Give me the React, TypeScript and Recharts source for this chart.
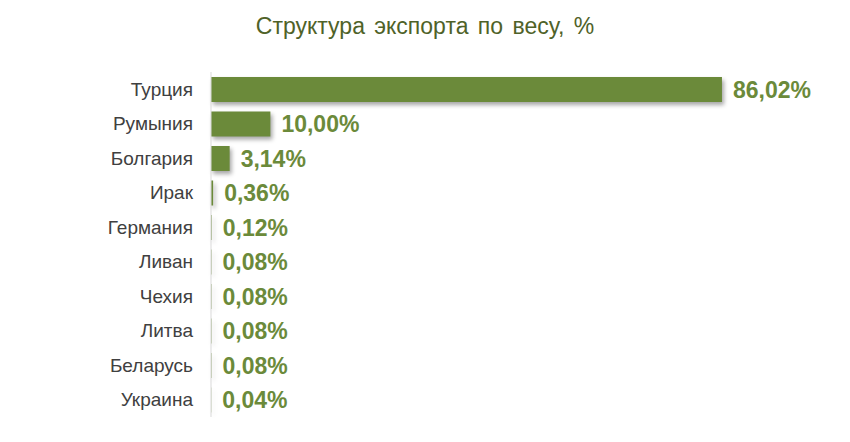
import { BarChart, Bar, XAxis, YAxis, LabelList } from 'recharts';

const countries = [
  'Турция',
  'Румыния',
  'Болгария',
  'Ирак',
  'Германия',
  'Ливан',
  'Чехия',
  'Литва',
  'Беларусь',
  'Украина',
];
const shares = [86.02, 10.0, 3.14, 0.36, 0.12, 0.08, 0.08, 0.08, 0.08, 0.04];

const BAR = '#6b8a3a';
const TITLE = '#4f6228';

const data = countries.map((c, i) => ({ country: c, share: shares[i] }));

const fmt = (v: number) => `${v.toFixed(2).replace('.', ',')}%`;

function ShadowBar(props: any) {
  const { x, y, width, height, fill } = props;
  if (!width || width <= 0) return null;
  return (
    <rect
      x={x}
      y={y}
      width={width}
      height={height}
      fill={fill}
      style={{ filter: 'drop-shadow(2px 3px 2px rgba(0,0,0,0.35))' }}
    />
  );
}

export default function App() {
  return (
    <div style={{ position: 'absolute', left: 0, top: 0, width: 850, height: 442, background: '#fff', fontFamily: '"Liberation Sans", Arial, sans-serif' }}>
      <div
        style={{
          position: 'absolute',
          top: 13,
          left: 0,
          width: 850,
          textAlign: 'center',
          fontSize: 23,
          color: TITLE,
          wordSpacing: 3,
        }}
      >
        Структура экспорта по весу, %
      </div>
      <BarChart
        width={850}
        height={442}
        data={data}
        layout="vertical"
        margin={{ top: 72, right: 45, bottom: 25, left: 0 }}
      >
        <XAxis type="number" domain={[0, 100]} hide />
        <YAxis
          type="category"
          dataKey="country"
          width={211}
          tickLine={false}
          tickSize={0}
          tickMargin={18}
          axisLine={{ stroke: '#d9d9d9' }}
          tick={{ fill: '#404040', fontSize: 19 }}
        />
        <Bar dataKey="share" fill={BAR} barSize={25} shape={<ShadowBar />} isAnimationActive={false}>
          <LabelList
            dataKey="share"
            position="right"
            offset={11}
            formatter={(v: any) => fmt(Number(v))}
            style={{ fill: BAR, fontSize: 23, fontWeight: 'bold' }}
          />
        </Bar>
      </BarChart>
    </div>
  );
}
